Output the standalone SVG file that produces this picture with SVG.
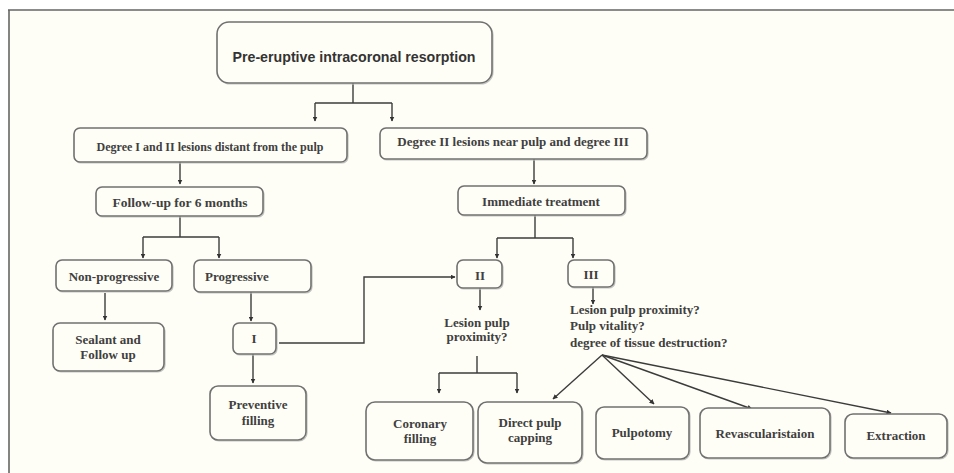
<svg xmlns="http://www.w3.org/2000/svg" width="954" height="473" viewBox="0 0 954 473">
<defs>
<marker id="ah" viewBox="0 0 10 10" refX="9" refY="5" markerWidth="5" markerHeight="5" orient="auto" markerUnits="userSpaceOnUse">
<path d="M0,0 L10,5 L0,10 z" fill="#333"/>
</marker>
<style>
.box{fill:#fffef6;stroke:#707070;stroke-width:1.6}
.sh{fill:none;stroke:#c4c4c0;stroke-width:1.2}
.t{font-family:"Liberation Serif","Times New Roman",serif;font-weight:bold;font-size:13px;fill:#404040;text-anchor:middle}
.tl{font-family:"Liberation Serif","Times New Roman",serif;font-weight:bold;font-size:13px;fill:#404040}
.c{fill:none;stroke:#3c3c3c;stroke-width:1.4}
</style>
</defs>
<rect x="0" y="0" width="954" height="473" fill="#ffffff"/>
<rect x="9" y="10" width="945" height="463" fill="#fffef6"/>
<path d="M8,10 H954 M9,10 V473" stroke="#666" stroke-width="1.6" fill="none"/>

<g id="connectors">
<path class="c" d="M353,83 V103 M315,103 H392" />
<path class="c" d="M315,103 V121" marker-end="url(#ah)"/>
<path class="c" d="M392,103 V121" marker-end="url(#ah)"/>
<path class="c" d="M180,162 V184" marker-end="url(#ah)"/>
<path class="c" d="M534,159 V184" marker-end="url(#ah)"/>
<path class="c" d="M180,216 V237 M143,237 H219"/>
<path class="c" d="M143,237 V258" marker-end="url(#ah)"/>
<path class="c" d="M219,237 V258" marker-end="url(#ah)"/>
<path class="c" d="M535,215 V238 M497,238 H573"/>
<path class="c" d="M497,238 V258" marker-end="url(#ah)"/>
<path class="c" d="M573,238 V258" marker-end="url(#ah)"/>
<path class="c" d="M105,293 V320" marker-end="url(#ah)"/>
<path class="c" d="M251,292 V321" marker-end="url(#ah)"/>
<path class="c" d="M253,354 V383" marker-end="url(#ah)"/>
<path class="c" d="M279,343 H364 V277 H455" marker-end="url(#ah)"/>
<path class="c" d="M480,288 V310" marker-end="url(#ah)"/>
<path class="c" d="M593,287 V304" marker-end="url(#ah)"/>
<path class="c" d="M477,356 V373 M439,373 H517"/>
<path class="c" d="M439,373 V393" marker-end="url(#ah)"/>
<path class="c" d="M517,373 V393" marker-end="url(#ah)"/>
<path class="c" d="M602,355 L553,399" marker-end="url(#ah)"/>
<path class="c" d="M602,355 L654,404" marker-end="url(#ah)"/>
<path class="c" d="M602,355 L752,409" marker-end="url(#ah)"/>
<path class="c" d="M602,355 L891,413" marker-end="url(#ah)"/>
</g>

<g id="title">
<rect class="sh" x="218" y="23" width="275" height="61" rx="12"/>
<rect class="box" x="217" y="22" width="275" height="61" rx="12"/>
<text x="354" y="62" font-family="Liberation Sans, Arial, sans-serif" font-size="15" font-weight="bold" fill="#333" text-anchor="middle" textLength="243" lengthAdjust="spacingAndGlyphs">Pre-eruptive intracoronal resorption</text>
</g>
<g id="n-distant">
<rect class="sh" x="75" y="129" width="273" height="34" rx="6"/>
<rect class="box" x="74" y="128" width="273" height="34" rx="6"/>
<text class="t" x="210" y="151" style="font-size:12px">Degree I and II lesions distant from the pulp</text>
</g>
<g id="n-near">
<rect class="sh" x="381" y="129" width="267" height="31" rx="6"/>
<rect class="box" x="380" y="128" width="267" height="31" rx="6"/>
<text class="t" x="513" y="146">Degree II lesions near pulp and degree III</text>
</g>
<g id="n-followup">
<rect class="sh" x="97" y="188" width="167" height="29" rx="6"/>
<rect class="box" x="96" y="187" width="167" height="29" rx="6"/>
<text class="t" x="180" y="207" style="font-size:13.5px">Follow-up for 6 months</text>
</g>
<g id="n-immediate">
<rect class="sh" x="459" y="187" width="167" height="29" rx="6"/>
<rect class="box" x="458" y="186" width="167" height="29" rx="6"/>
<text class="t" x="541" y="206">Immediate treatment</text>
</g>
<g id="n-nonprog">
<rect class="sh" x="57" y="261" width="116" height="31" rx="6"/>
<rect class="box" x="56" y="260" width="116" height="31" rx="6"/>
<text class="t" x="114" y="281">Non-progressive</text>
</g>
<g id="n-prog">
<rect class="sh" x="195" y="261" width="117" height="32" rx="6"/>
<rect class="box" x="194" y="260" width="117" height="32" rx="6"/>
<text class="tl" x="205" y="281">Progressive</text>
</g>
<g id="n-II">
<rect class="sh" x="458" y="261" width="45" height="28" rx="6"/>
<rect class="box" x="457" y="260" width="45" height="28" rx="6"/>
<text class="t" x="480" y="280">II</text>
</g>
<g id="n-III">
<rect class="sh" x="569" y="261" width="46" height="27" rx="6"/>
<rect class="box" x="568" y="260" width="46" height="27" rx="6"/>
<text class="t" x="591" y="279">III</text>
</g>
<g id="n-sealant">
<rect class="sh" x="54" y="324" width="111" height="48" rx="7"/>
<rect class="box" x="53" y="323" width="111" height="48" rx="7"/>
<text class="t" x="108" y="344">Sealant and</text>
<text class="t" x="108" y="359">Follow up</text>
</g>
<g id="n-I">
<rect class="sh" x="234" y="324" width="43" height="31" rx="6"/>
<rect class="box" x="233" y="323" width="43" height="31" rx="6"/>
<text class="t" x="254" y="343">I</text>
</g>
<g id="n-preventive">
<rect class="sh" x="211" y="387" width="96" height="54" rx="8"/>
<rect class="box" x="210" y="386" width="96" height="54" rx="8"/>
<text class="t" x="258" y="409">Preventive</text>
<text class="t" x="258" y="425">filling</text>
</g>
<g id="q-II">
<text class="t" x="477" y="327">Lesion pulp</text>
<text class="t" x="477" y="341">proximity?</text>
</g>
<g id="q-III">
<text class="tl" x="570" y="314">Lesion pulp proximity?</text>
<text class="tl" x="570" y="330">Pulp vitality?</text>
<text class="tl" x="570" y="347">degree of tissue destruction?</text>
</g>
<g id="n-coronary">
<rect class="sh" x="367" y="403" width="107" height="58" rx="9"/>
<rect class="box" x="366" y="402" width="107" height="58" rx="9"/>
<text class="t" x="420" y="428">Coronary</text>
<text class="t" x="420" y="443">filling</text>
</g>
<g id="n-direct">
<rect class="sh" x="479" y="403" width="104" height="61" rx="9"/>
<rect class="box" x="478" y="402" width="104" height="61" rx="9"/>
<text class="t" x="530" y="427">Direct pulp</text>
<text class="t" x="530" y="442">capping</text>
</g>
<g id="n-pulpotomy">
<rect class="sh" x="597" y="408" width="93" height="52" rx="8"/>
<rect class="box" x="596" y="407" width="93" height="52" rx="8"/>
<text class="t" x="642" y="437">Pulpotomy</text>
</g>
<g id="n-revasc">
<rect class="sh" x="701" y="409" width="130" height="50" rx="8"/>
<rect class="box" x="700" y="408" width="130" height="50" rx="8"/>
<text class="t" x="765" y="438">Revascularistaion</text>
</g>
<g id="n-extraction">
<rect class="sh" x="846" y="415" width="102" height="44" rx="8"/>
<rect class="box" x="845" y="414" width="102" height="44" rx="8"/>
<text class="t" x="896" y="440">Extraction</text>
</g>
</svg>
